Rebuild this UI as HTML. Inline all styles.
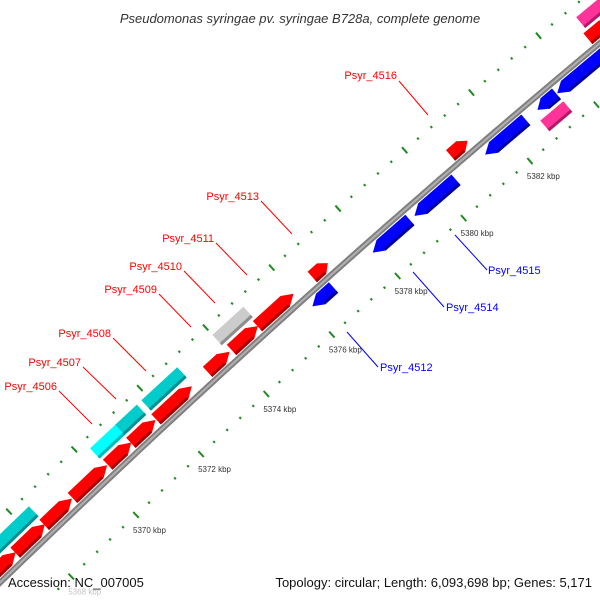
<!DOCTYPE html>
<html><head><meta charset="utf-8"><style>
html,body{margin:0;padding:0;background:#fff;width:600px;height:600px;overflow:hidden;}
svg{display:block;font-family:"Liberation Sans",sans-serif;overflow:hidden;}
</style></head><body>
<svg id="map" width="600" height="600" viewBox="0 0 600 600" xmlns="http://www.w3.org/2000/svg">
<rect width="600" height="600" fill="#fff"/>
<text x="300" y="23" text-anchor="middle" font-size="13" font-style="italic" fill="#333">Pseudomonas syringae pv. syringae B728a, complete genome</text>
<g id="ticks"></g>
<path id="backbone" fill="none" stroke="#808080" stroke-width="6"/>
<path id="backbone2" fill="none" stroke="#b0b0b0" stroke-width="2"/>
<g id="genes"></g>
<g id="labels" font-size="11">
<g><text x="397" y="79" text-anchor="end" fill="#f00">Psyr_4516</text><line x1="399" y1="81" x2="428" y2="115" stroke="#f00"/></g>
<g><text x="259" y="200" text-anchor="end" fill="#f00">Psyr_4513</text><line x1="261" y1="201" x2="292" y2="234" stroke="#f00"/></g>
<g><text x="214" y="242" text-anchor="end" fill="#f00">Psyr_4511</text><line x1="216" y1="243" x2="247" y2="275" stroke="#f00"/></g>
<g><text x="182" y="270" text-anchor="end" fill="#f00">Psyr_4510</text><line x1="184" y1="271" x2="215" y2="303" stroke="#f00"/></g>
<g><text x="157" y="293" text-anchor="end" fill="#f00">Psyr_4509</text><line x1="159" y1="294" x2="191" y2="327" stroke="#f00"/></g>
<g><text x="111" y="337" text-anchor="end" fill="#f00">Psyr_4508</text><line x1="113" y1="338" x2="146" y2="371" stroke="#f00"/></g>
<g><text x="81" y="366" text-anchor="end" fill="#f00">Psyr_4507</text><line x1="83" y1="367" x2="116" y2="399" stroke="#f00"/></g>
<g><text x="57" y="390" text-anchor="end" fill="#f00">Psyr_4506</text><line x1="59" y1="391" x2="92" y2="424" stroke="#f00"/></g>
<g><text x="380" y="371" fill="#00f">Psyr_4512</text><line x1="347" y1="332" x2="378" y2="367" stroke="#00f"/></g>
<g><text x="446" y="311" fill="#00f">Psyr_4514</text><line x1="413" y1="272" x2="444" y2="307" stroke="#00f"/></g>
<g><text x="488" y="274" fill="#00f">Psyr_4515</text><line x1="455" y1="235" x2="487" y2="270" stroke="#00f"/></g>
</g>
<text x="8" y="587" font-size="13" fill="#111">Accession: NC_007005</text>
<text x="592" y="587" font-size="13" text-anchor="end" fill="#111">Topology: circular; Length: 6,093,698 bp; Genes: 5,171</text>
</svg>
<script>
// ---- data (kbp) ----
const fwdStarts = [5366.5, 5367.40, 5368.29, 5369.16, 5370.24, 5370.95, 5371.72, 5373.29, 5374.02, 5374.81, 5376.47, 5380.64, 5384.75];
const fwdEnds   = [5367.55, 5368.45, 5369.28, 5370.36, 5371.10, 5371.84, 5372.95, 5374.10, 5374.96, 5376.04, 5377.08, 5381.29, 5385.6];
const revStarts = [5376.03, 5377.86, 5379.12, 5381.25, 5382.82, 5383.41];
const revEnds   = [5376.81, 5379.12, 5380.51, 5382.61, 5383.53, 5385.3];
const outerStarts = [5366.3, 5370.20, 5370.97, 5371.77, 5373.93, 5384.86];
const outerEnds   = [5368.47, 5371.12, 5371.77, 5373.00, 5375.01, 5386.0];
const outerKinds  = ['teal', 'cyan', 'teal', 'teal', 'gray', 'pink'];
const innerStarts = [5382.71];
const innerEnds   = [5383.54];
const innerKinds  = ['pink'];
const tickLabels  = [5368, 5370, 5372, 5374, 5376, 5378, 5380, 5382];
const tickMin = 5366, tickMax = 5385.2;

// ---- axis ----
const P0=[10,573], C=[300,293], P2=[600,43];
function tOf(k){ return 0.1636 + (k-5370)*0.05587; }
function B(t){ const a=(1-t)*(1-t), b=2*t*(1-t), c=t*t;
  return [a*P0[0]+b*C[0]+c*P2[0], a*P0[1]+b*C[1]+c*P2[1]]; }
function D(t){ return [2*(1-t)*(C[0]-P0[0])+2*t*(P2[0]-C[0]), 2*(1-t)*(C[1]-P0[1])+2*t*(P2[1]-C[1])]; }
function pt(k,off){ const t=tOf(k), p=B(t), d=D(t), L=Math.hypot(d[0],d[1]);
  const n=[-d[1]/L, d[0]/L]; return [p[0]+n[0]*off, p[1]+n[1]*off]; }
const NS='http://www.w3.org/2000/svg';
function mk(tag,attrs,parent){ const e=document.createElementNS(NS,tag); for(const a in attrs) e.setAttribute(a,attrs[a]); parent.appendChild(e); return e; }

// backbone
let d='';
for(let i=0;i<=60;i++){ const k=5366.5+i*19.5/60; const p=pt(k,0); d+=(i?'L':'M')+p[0].toFixed(1)+','+p[1].toFixed(1); }
document.getElementById('backbone').setAttribute('d',d);
document.getElementById('backbone2').setAttribute('d',d);

// ticks
const tg=document.getElementById('ticks');
function tickRow(off,name){
  for(let i=0;i<=Math.round((tickMax-tickMin)/0.4);i++){
    const k=tickMin+i*0.4; const major=Math.abs(k-Math.round(k))<0.01 && Math.round(k)%2===0;
    const len=major?4:1.2; const a=pt(k,off-len), b=pt(k,off+len);
    const l=mk('line',{x1:a[0],y1:a[1],x2:b[0],y2:b[1],stroke:'#1f8a1f','stroke-width':2},tg);
    
    
  }
}
tickRow(-45,'outer');
tickRow(45,'inner');
tickLabels.forEach(k=>{
  const p=pt(k,45);
  const t=mk('text',{x:p[0]-3,y:p[1]+18,'font-size':8,fill:'#333'},tg);
  t.textContent=k+' kbp';
  
  
  if(k===5368) t.setAttribute('opacity','0.3');
});

// genes
const colors={red:['#ff0000','#a80000'],blue:['#0000ff','#00009a'],teal:['#00cccc','#008f8f'],cyan:['#00ffff','#00b8b8'],gray:['#cccccc','#8e8e8e'],pink:['#ff3399','#b01c68']};
const gg=document.getElementById('genes');
function poly(pts){ return pts.map(p=>p[0].toFixed(1)+','+p[1].toFixed(1)).join(' '); }
function gene(k1,k2,off,kind,dir,name){
  const gap=0.07; k1+=gap; k2-=gap;
  const h=7, a=Math.min(0.25,(k2-k1)*0.4), c=colors[kind];
  let top, shade;
  if(dir===1){ top=[pt(k1,off-h),pt(k2-a,off-h),pt(k2,off),pt(k2-a,off+h),pt(k1,off+h)]; }
  else if(dir===-1){ top=[pt(k2,off-h),pt(k1+a,off-h),pt(k1,off),pt(k1+a,off+h),pt(k2,off+h)]; }
  else { top=[pt(k1,off-h),pt(k2,off-h),pt(k2,off+h),pt(k1,off+h)]; }
  const g=mk('g',{},gg);
  
  
  mk('polygon',{points:poly(top),fill:c[0]},g);
  const s1=dir===-1?k1+a:k1, s2=dir===1?k2-a:k2;
  shade=[pt(s1,off+h-3),pt(s2,off+h-3),pt(s2,off+h),pt(s1,off+h)];
  mk('polygon',{points:poly(shade),fill:c[1]},g);
}
fwdStarts.forEach((s,i)=>gene(s,fwdEnds[i],-11,'red',1,'forward-cds-'+i));
revStarts.forEach((s,i)=>gene(s,revEnds[i],11,'blue',-1,'reverse-cds-'+i));
outerStarts.forEach((s,i)=>gene(s,outerEnds[i],-28,outerKinds[i],0,'outer-feature-'+i));
innerStarts.forEach((s,i)=>gene(s,innerEnds[i],28,innerKinds[i],0,'inner-feature-'+i));
</script>
</body></html>
